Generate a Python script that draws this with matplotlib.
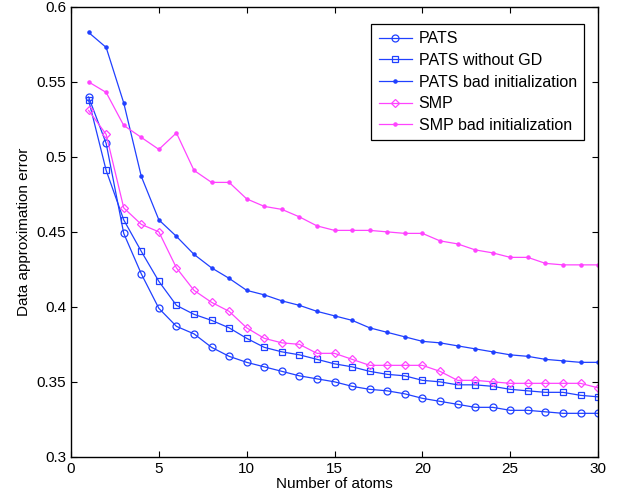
import numpy as np
import matplotlib
matplotlib.use('Agg')
import matplotlib.pyplot as plt

plt.rcParams['font.family'] = ['Liberation Sans', 'DejaVu Sans']

# ── data ─────────────────────────────────────────────────────────────────────
atoms = list(range(1, 31))

pats = [0.540, 0.509, 0.449, 0.422, 0.399, 0.387, 0.382, 0.373, 0.367, 0.363,
        0.360, 0.357, 0.354, 0.352, 0.350, 0.347, 0.345, 0.344, 0.342, 0.339,
        0.337, 0.335, 0.333, 0.333, 0.331, 0.331, 0.330, 0.329, 0.329, 0.329]
pats_no_gd = [0.538, 0.491, 0.458, 0.437, 0.417, 0.401, 0.395, 0.391, 0.386, 0.379,
              0.373, 0.370, 0.368, 0.365, 0.362, 0.360, 0.357, 0.355, 0.354, 0.351,
              0.350, 0.348, 0.348, 0.347, 0.345, 0.344, 0.343, 0.343, 0.341, 0.340]
pats_bad = [0.583, 0.573, 0.536, 0.487, 0.458, 0.447, 0.435, 0.426, 0.419, 0.411,
            0.408, 0.404, 0.401, 0.397, 0.394, 0.391, 0.386, 0.383, 0.380, 0.377,
            0.376, 0.374, 0.372, 0.370, 0.368, 0.367, 0.365, 0.364, 0.363, 0.363]
smp = [0.531, 0.515, 0.466, 0.455, 0.450, 0.426, 0.411, 0.403, 0.397, 0.386,
       0.379, 0.376, 0.375, 0.369, 0.369, 0.365, 0.361, 0.361, 0.361, 0.361,
       0.357, 0.351, 0.351, 0.350, 0.349, 0.349, 0.349, 0.349, 0.349, 0.346]
smp_bad = [0.550, 0.543, 0.521, 0.513, 0.505, 0.516, 0.491, 0.483, 0.483, 0.472,
           0.467, 0.465, 0.460, 0.454, 0.451, 0.451, 0.451, 0.450, 0.449, 0.449,
           0.444, 0.442, 0.438, 0.436, 0.433, 0.433, 0.429, 0.428, 0.428, 0.428]

x_ticks = [0, 5, 10, 15, 20, 25, 30]
y_ticks = [0.3, 0.35, 0.4, 0.45, 0.5, 0.55, 0.6]
y_labels = ['0.3', '0.35', '0.4', '0.45', '0.5', '0.55', '0.6']

BLUE = '#2040ff'
MAGENTA = '#ff44ff'

# ── plot ─────────────────────────────────────────────────────────────────────
fig = plt.figure(figsize=(6.23, 4.96), dpi=100)
ax = fig.add_axes([0.114, 0.079, 0.846, 0.907])

lw = 0.9
ax.plot(atoms, pats, ls='-', marker='o', color=BLUE, lw=lw, ms=5, mfc='none', mew=0.9,
        label='PATS')
ax.plot(atoms, pats_no_gd, ls='-', marker='s', color=BLUE, lw=lw, ms=5, mfc='none',
        mew=0.9, label='PATS without GD')
ax.plot(atoms, pats_bad, ls='-', marker='.', color=BLUE, lw=lw, ms=4.5,
        label='PATS bad initialization')
ax.plot(atoms, smp, ls='-', marker='D', color=MAGENTA, lw=lw, ms=4, mfc='none', mew=0.9,
        label='SMP')
ax.plot(atoms, smp_bad, ls='-', marker='.', color=MAGENTA, lw=lw, ms=4.5,
        label='SMP bad initialization')

ax.set_xlim(0, 30)
ax.set_ylim(0.3, 0.6)
ax.set_xticks(x_ticks)
ax.set_yticks(y_ticks)
ax.set_yticklabels(y_labels)
ax.tick_params(direction='in', top=True, right=True, labelsize=11, length=4, width=0.8)
for s in ax.spines.values():
    s.set_linewidth(1.0)

ax.set_xlabel('Number of atoms', fontsize=11, labelpad=1)
ax.set_ylabel('Data approximation error', fontsize=11, labelpad=4)

leg = ax.legend(loc='upper right', bbox_to_anchor=(0.973, 0.962), fontsize=11.5,
                fancybox=False, framealpha=1, edgecolor='black', handlelength=2.1,
                handletextpad=0.4, borderpad=0.45, labelspacing=0.42, borderaxespad=0)
leg.get_frame().set_linewidth(0.9)

fig.savefig('out.png', dpi=100)
